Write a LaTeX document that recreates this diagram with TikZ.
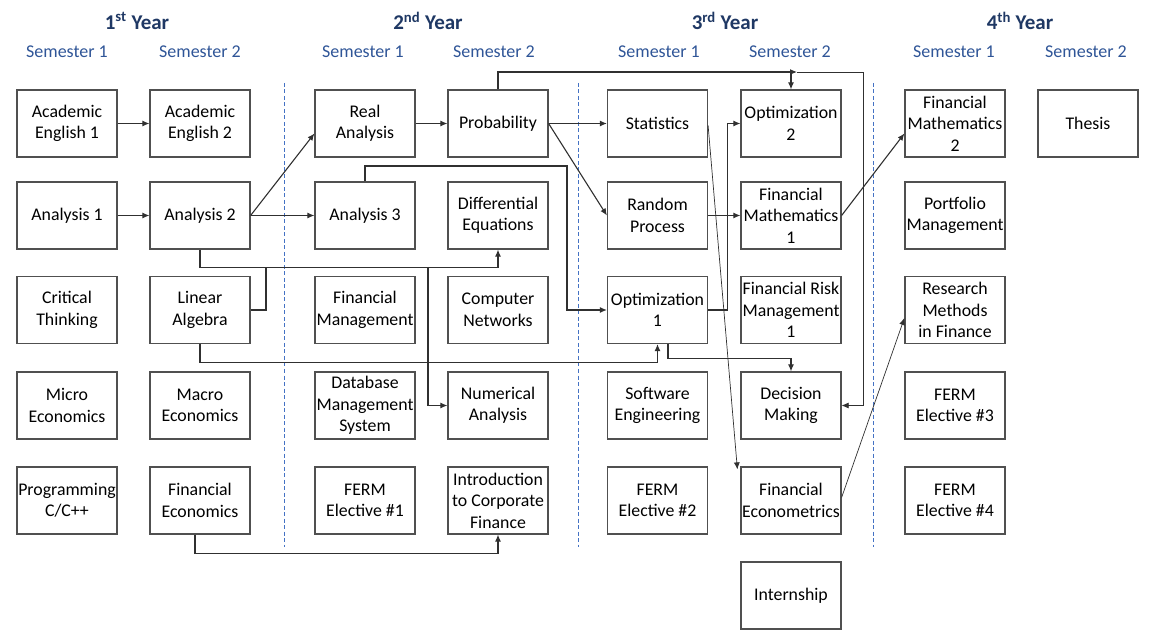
\documentclass[tikz,border=0pt]{standalone}
\usepackage{fontspec}
\setmainfont{Carlito}
\usepackage{xcolor}
\usepackage{tikz}
\usetikzlibrary{arrows.meta}
\definecolor{yearblue}{HTML}{1F3864}
\definecolor{semblue}{HTML}{2F5597}
\definecolor{splitblue}{HTML}{4472C4}
\definecolor{boxgray}{HTML}{505050}
\definecolor{linegray}{HTML}{303030}

\begin{document}
\begin{tikzpicture}[x=1pt,y=-1pt,
    course/.style={draw=boxgray,line width=1.2pt,minimum width=100pt,minimum height=67pt,inner sep=0pt,align=center,font=\fontsize{17.8}{21.5}\selectfont},
    year/.style={text=yearblue,font=\fontsize{21}{24}\selectfont\bfseries},
    sem/.style={text=semblue,font=\fontsize{18}{20}\selectfont},
    con/.style={-{Latex[length=7pt,width=6pt]},draw=linegray,line width=1.1pt},
    thincon/.style={-{Latex[length=7pt,width=6pt]},draw=linegray,line width=0.7pt},
    split/.style={draw=splitblue,line width=1pt,dash pattern=on 4pt off 2.5pt}]
    \useasboundingbox (0,0) rectangle (1170,636);

        \node[year] (y1) at (137,21) {1\textsuperscript{st} Year};
        \node[year] (y2) at (428,21) {2\textsuperscript{nd} Year};
        \node[year] (y3) at (725,21) {3\textsuperscript{rd} Year};
        \node[year] (y4) at (1020,21) {4\textsuperscript{th} Year};
        \node[sem] (s11) at (67,52) {Semester 1};
        \node[sem] (s12) at (200,52) {Semester 2};
        \node[sem] (s21) at (363,52) {Semester 1};
        \node[sem] (s22) at (494,52) {Semester 2};
        \node[sem] (s31) at (659,52) {Semester 1};
        \node[sem] (s32) at (790,52) {Semester 2};
        \node[sem] (s41) at (954,52) {Semester 1};
        \node[sem] (s42) at (1086,52) {Semester 2};

        \draw[split] (284,83) -- (284,547);
        \draw[split] (578,83) -- (578,547);
        \draw[split] (873,83) -- (873,547);

        \node[course] (AcEng1) at (67,123.5) {Academic\\English 1};
        \node[course] (AcEng2) at (200,123.5) {Academic\\English 2};
        \node[course] (RealAn) at (365,123.5) {Real\\Analysis};
        \node[course] (Prob) at (498,123.5) {Probability};
        \node[course] (Stat) at (657.5,123.5) {Statistics};
        \node[course] (Opt2) at (791,123.5) {Optimization\\2};
        \node[course] (FinMath2) at (955,123.5) {Financial\\Mathematics\\2};
        \node[course] (Thesis) at (1088,123.5) {Thesis};

        \node[course] (An1) at (67,215.5) {Analysis 1};
        \node[course] (An2) at (200,215.5) {Analysis 2};
        \node[course] (An3) at (365,215.5) {Analysis 3};
        \node[course] (DiffEq) at (498,215.5) {Differential\\Equations};
        \node[course] (RandProc) at (657.5,215.5) {Random\\Process};
        \node[course] (FinMath1) at (791,215.5) {Financial\\Mathematics\\1};
        \node[course] (Portf) at (955,215.5) {Portfolio\\Management};

        \node[course] (CritThink) at (67,310) {Critical\\Thinking};
        \node[course] (LinAlg) at (200,310) {Linear\\Algebra};
        \node[course] (FinMgmt) at (365,310) {Financial\\Management};
        \node[course] (CompNet) at (498,310) {Computer\\Networks};
        \node[course] (Opt1) at (657.5,310) {Optimization\\1};
        \node[course] (FinRisk) at (791,310) {Financial Risk\\Management\\1};
        \node[course] (ResMeth) at (955,310) {Research\\Methods\\in Finance};

        \node[course] (MicroEc) at (67,405.5) {Micro\\Economics};
        \node[course] (MacroEc) at (200,405.5) {Macro\\Economics};
        \node[course] (DbMgmt) at (365,405.5) {Database\\Management\\System};
        \node[course] (NumAn) at (498,405.5) {Numerical\\Analysis};
        \node[course] (SoftEng) at (657.5,405.5) {Software\\Engineering};
        \node[course] (DecMak) at (791,405.5) {Decision\\Making};
        \node[course] (Elect3) at (955,405.5) {FERM\\Elective \#3};

        \node[course] (Prog) at (67,500.5) {Programming\\C/C++};
        \node[course] (FinEco) at (200,500.5) {Financial\\Economics};
        \node[course] (Elect1) at (365,500.5) {FERM\\Elective \#1};
        \node[course] (CorpFin) at (498,500.5) {Introduction\\to Corporate\\Finance};
        \node[course] (Elect2) at (657.5,500.5) {FERM\\Elective \#2};
        \node[course] (FinEcon) at (791,500.5) {Financial\\Econometrics};
        \node[course] (Elect4) at (955,500.5) {FERM\\Elective \#4};

        \node[course] (Intern) at (791,595.5) {Internship};

        \coordinate (diffJoin) at (266,267);
        \coordinate (numJoin) at (428,267);
        \coordinate (an3Turn) at (567,166);
        \coordinate (probEnd) at (797,72);
        \coordinate (dmTurn) at (863,72);

        \draw[con] (AcEng1) -- (AcEng2);
        \draw[con] (An1) -- (An2);
        \draw[con] (An2.east) -- ([yshift=-10pt]RealAn.west);
        \draw[con] (An2) -- (An3);
        \draw[con] (RealAn) -- (Prob);
        \draw[con] (An2.south) -- ++(0,18) -| (DiffEq.south);
        \draw[con,-] (LinAlg.east) -| (diffJoin);
        \draw[con] (numJoin) |- (NumAn.west);
        \draw[con] (LinAlg.south) -- ++(0,18) -| (Opt1.south);
        \draw[con] (An3.north) |- (an3Turn) |- (Opt1.west);
        \draw[con] (Prob.north) |- (probEnd);
        \draw[con] (Opt2.north |- probEnd) -- (Opt2.north);
        \draw[thincon] (probEnd) -- (dmTurn) |- (DecMak.east);
        \draw[con] (Prob) -- (Stat);
        \draw[con] (Prob.east) -- (RandProc.west);
        \draw[con] (RandProc) -- (FinMath1);
        \draw[con] (Opt1.east) -- ++(19,0) |- (Opt2.west);
        \draw[thincon] ([yshift=-2pt]Stat.east) -- ([shift={(-3pt,-3pt)}]FinEcon.north west);
        \draw[con] ([xshift=10.5pt]Opt1.south) -- ++(0,14) -| (DecMak.north);
        \draw[con] (FinMath1.east) -- ([yshift=-10pt]FinMath2.west);
        \draw[thincon] ([yshift=3pt]FinEcon.east) -- ([yshift=-8pt]ResMeth.west);
        \draw[con] ([xshift=-5pt]FinEco.south) -- ++(0,19) -| (CorpFin.south);
\end{tikzpicture}
\end{document}
